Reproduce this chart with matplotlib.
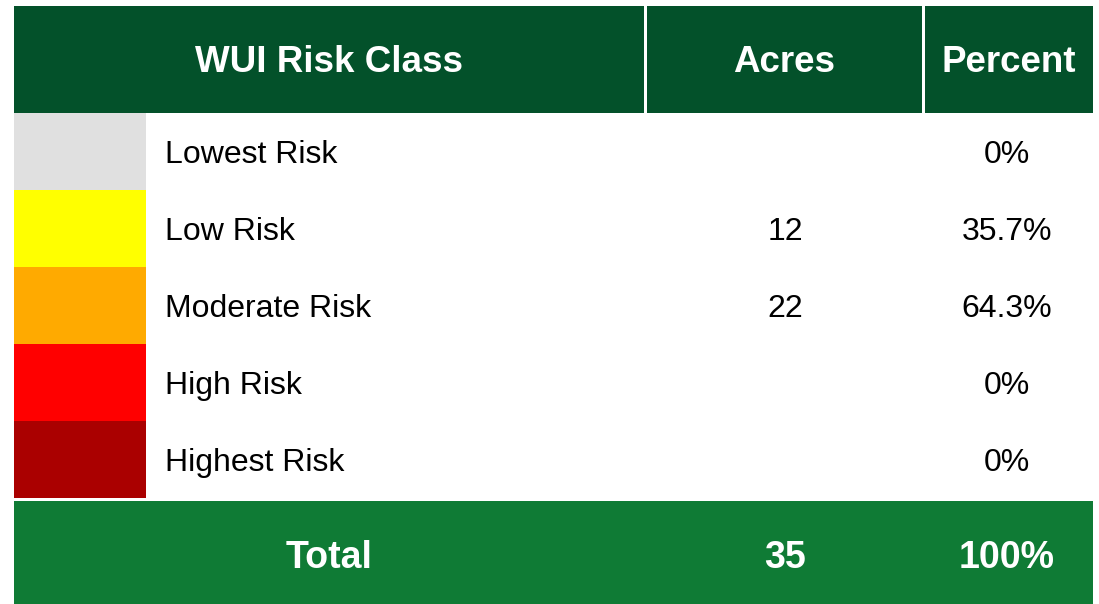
import matplotlib
matplotlib.use("Agg")
import matplotlib.pyplot as plt
from matplotlib.patches import Rectangle

# table content
headers = ["WUI Risk Class", "Acres", "Percent"]
classes = ["Lowest Risk", "Low Risk", "Moderate Risk", "High Risk", "Highest Risk"]
acres = ["", "12", "22", "", ""]
percents = ["0%", "35.7%", "64.3%", "0%", "0%"]
swatches = ["#e0e0e0", "#ffff00", "#ffaa00", "#ff0000", "#aa0000"]
total_label = "Total"
total_acres = "35"
total_percent = "100%"

HEAD_GREEN = "#03512a"
TOTAL_GREEN = "#0f7b35"
W, H = 1099, 604

plt.rcParams["font.family"] = ["Liberation Sans", "DejaVu Sans"]

fig = plt.figure(figsize=(W / 100, H / 100), dpi=100)
ax = fig.add_axes([0, 0, 1, 1])
ax.set_xlim(0, W)
ax.set_ylim(H, 0)
ax.axis("off")

# column layout (pixels)
left, right = 14, 1093
col_edges = [(14, 644), (647, 922), (925, 1093)]
head_top, head_bot = 6, 113
row_h = 77
swatch_w = 132
label_x = 165
acres_x = 785
pct_x = 1007

# header
for (x0, x1), txt in zip(col_edges, headers):
    ax.add_patch(Rectangle((x0, head_top), x1 - x0, head_bot - head_top,
                           facecolor=HEAD_GREEN, edgecolor="none"))
    ax.text((x0 + x1) / 2, 72, txt, color="white", fontsize=26.5,
            fontweight="bold", ha="center", va="baseline")

# body rows
for i, (name, a, p, c) in enumerate(zip(classes, acres, percents, swatches)):
    y0 = head_bot + i * row_h
    ax.add_patch(Rectangle((left, y0), swatch_w, row_h,
                           facecolor=c, edgecolor="none"))
    base = y0 + 50
    ax.text(label_x, base, name, fontsize=23, ha="left", va="baseline")
    if a:
        ax.text(acres_x, base, a, fontsize=23, ha="center", va="baseline")
    ax.text(pct_x, base, p, fontsize=23, ha="center", va="baseline")

# total row
tot_top = head_bot + len(classes) * row_h + 3
ax.add_patch(Rectangle((left, tot_top), right - left, H - tot_top,
                       facecolor=TOTAL_GREEN, edgecolor="none"))
for x, txt in [((col_edges[0][0] + col_edges[0][1]) / 2, total_label),
               (acres_x, total_acres), (pct_x, total_percent)]:
    ax.text(x, 568, txt, color="white", fontsize=27, fontweight="bold",
            ha="center", va="baseline")

fig.savefig("out.png", dpi=100)
